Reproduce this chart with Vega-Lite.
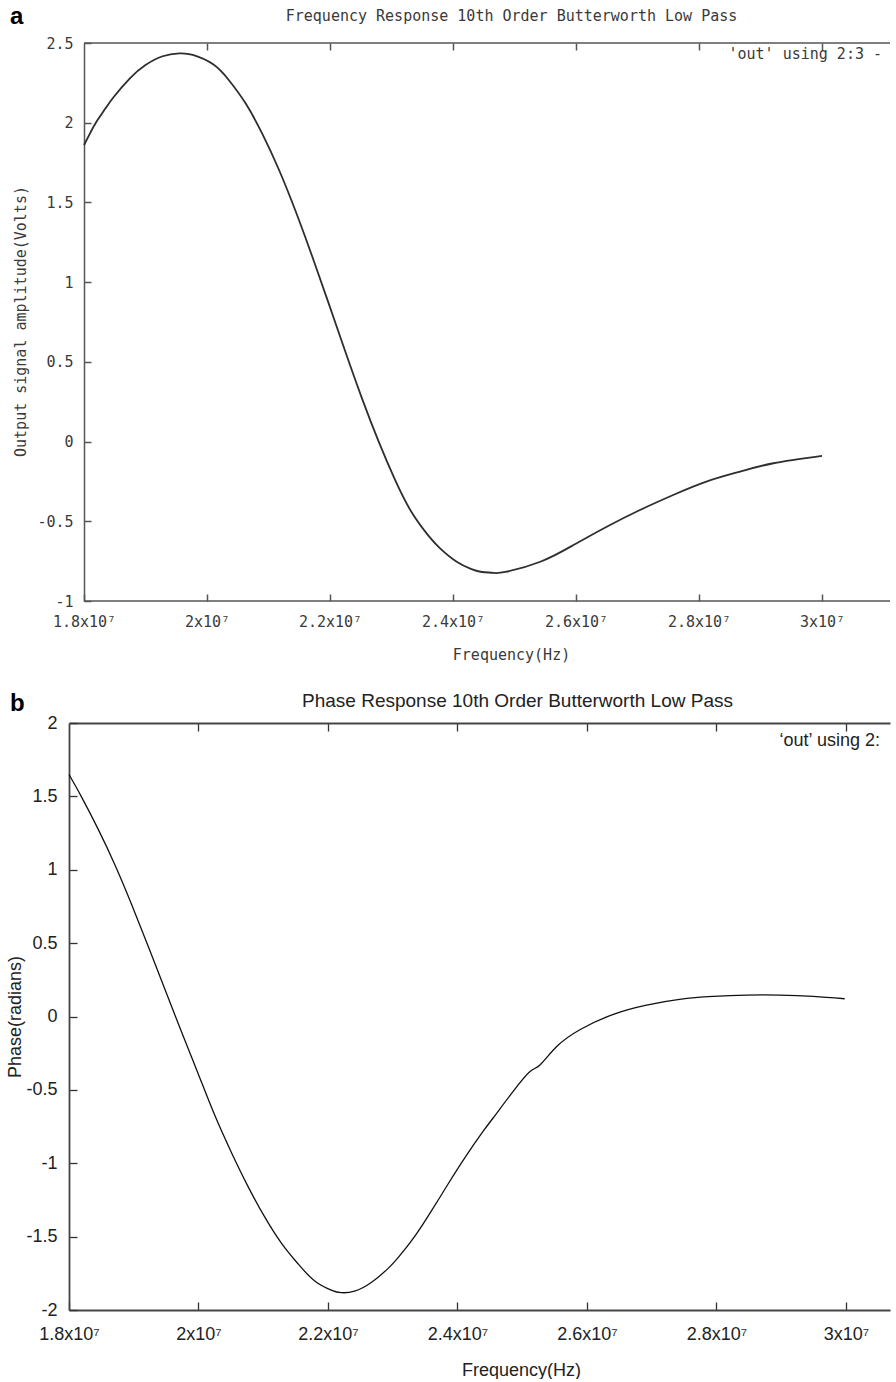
{
  "$schema": "https://vega.github.io/schema/vega-lite/v6.json",
  "background": "white",
  "padding": {"left": 6, "top": 4, "right": 0, "bottom": 0},
  "spacing": 29,
  "config": {"view": {"stroke": null}, "axis": {"grid": false}},
  "datasets": {
    "amp": [
      {"freq": 18000000, "volts": 1.86},
      {"freq": 18100000, "volts": 1.935},
      {"freq": 18200000, "volts": 2.005},
      {"freq": 18350000, "volts": 2.09},
      {"freq": 18480000, "volts": 2.16},
      {"freq": 18750000, "volts": 2.28},
      {"freq": 19000000, "volts": 2.362},
      {"freq": 19280000, "volts": 2.417},
      {"freq": 19550000, "volts": 2.435},
      {"freq": 19770000, "volts": 2.425},
      {"freq": 20100000, "volts": 2.366},
      {"freq": 20360000, "volts": 2.265},
      {"freq": 20630000, "volts": 2.12},
      {"freq": 20900000, "volts": 1.93},
      {"freq": 21170000, "volts": 1.705},
      {"freq": 21440000, "volts": 1.446},
      {"freq": 21710000, "volts": 1.162},
      {"freq": 21980000, "volts": 0.865},
      {"freq": 22250000, "volts": 0.563},
      {"freq": 22520000, "volts": 0.271},
      {"freq": 22790000, "volts": 0.001},
      {"freq": 23060000, "volts": -0.242},
      {"freq": 23330000, "volts": -0.445},
      {"freq": 23600000, "volts": -0.59},
      {"freq": 23790000, "volts": -0.67},
      {"freq": 24060000, "volts": -0.754},
      {"freq": 24300000, "volts": -0.8},
      {"freq": 24470000, "volts": -0.818},
      {"freq": 24650000, "volts": -0.823},
      {"freq": 24850000, "volts": -0.818},
      {"freq": 25420000, "volts": -0.754},
      {"freq": 25960000, "volts": -0.649},
      {"freq": 26500000, "volts": -0.534},
      {"freq": 27040000, "volts": -0.429},
      {"freq": 27580000, "volts": -0.335},
      {"freq": 28120000, "volts": -0.251},
      {"freq": 28670000, "volts": -0.188},
      {"freq": 29210000, "volts": -0.136},
      {"freq": 30000000, "volts": -0.09}
    ],
    "phase": [
      {"freq": 18000000, "rad": 1.649},
      {"freq": 18195000, "rad": 1.495},
      {"freq": 18450000, "rad": 1.277},
      {"freq": 18710000, "rad": 1.033},
      {"freq": 18967000, "rad": 0.764},
      {"freq": 19220000, "rad": 0.482},
      {"freq": 19480000, "rad": 0.187},
      {"freq": 19740000, "rad": -0.108},
      {"freq": 19995000, "rad": -0.39},
      {"freq": 20250000, "rad": -0.672},
      {"freq": 20510000, "rad": -0.928},
      {"freq": 20766000, "rad": -1.159},
      {"freq": 21020000, "rad": -1.364},
      {"freq": 21280000, "rad": -1.544},
      {"freq": 21537000, "rad": -1.685},
      {"freq": 21790000, "rad": -1.8},
      {"freq": 22050000, "rad": -1.864},
      {"freq": 22206000, "rad": -1.882},
      {"freq": 22410000, "rad": -1.872},
      {"freq": 22668000, "rad": -1.813},
      {"freq": 22925000, "rad": -1.718},
      {"freq": 23080000, "rad": -1.645},
      {"freq": 23337000, "rad": -1.5},
      {"freq": 23590000, "rad": -1.33},
      {"freq": 23850000, "rad": -1.145},
      {"freq": 24110000, "rad": -0.965},
      {"freq": 24400000, "rad": -0.78},
      {"freq": 24553000, "rad": -0.69},
      {"freq": 24860000, "rad": -0.51},
      {"freq": 25120000, "rad": -0.375},
      {"freq": 25274000, "rad": -0.33},
      {"freq": 25532000, "rad": -0.205},
      {"freq": 25890000, "rad": -0.09},
      {"freq": 26407000, "rad": 0.015},
      {"freq": 26920000, "rad": 0.078},
      {"freq": 27430000, "rad": 0.117},
      {"freq": 27950000, "rad": 0.137},
      {"freq": 28460000, "rad": 0.146},
      {"freq": 28980000, "rad": 0.146},
      {"freq": 29495000, "rad": 0.137},
      {"freq": 29980000, "rad": 0.121}
    ]
  },
  "vconcat": [
    {
      "width": 821,
      "height": 558,
      "data": {"name": "amp"},
      "resolve": {"axis": {"x": "independent"}},
      "layer": [
        {
          "mark": {"type": "line", "stroke": "#2e2e2e", "strokeWidth": 1.8, "interpolate": "natural"},
          "encoding": {
            "x": {
              "field": "freq", "type": "quantitative",
              "scale": {"domain": [17756100, 31105700], "nice": false, "zero": false},
              "axis": {
                "orient": "bottom",
                "domain": false,
                "values": [18000000, 20000000, 22000000, 24000000, 26000000, 28000000, 30000000],
                "labelExpr": "format(datum.value / 10000000, '~g') + 'x10⁷'",
                "labelFont": "DejaVu Sans Mono", "labelFontSize": 15, "labelColor": "#3a3a3a",
                "labelBaseline": "alphabetic", "labelPadding": 32, "labelFlush": false, "labelOverlap": false,
                "tickSize": -7, "tickColor": "#555555", "tickWidth": 1.5,
                "title": "Frequency(Hz)", "titleFont": "DejaVu Sans Mono", "titleFontSize": 15, "titleFontWeight": "normal", "titleColor": "#3a3a3a",
                "titleX": 442, "titleY": 58, "titleBaseline": "alphabetic", "titleAlign": "center"
              }
            },
            "y": {
              "field": "volts", "type": "quantitative",
              "scale": {"domain": [-1, 2.5], "nice": false, "zero": false},
              "axis": {
                "orient": "left",
                "offset": -15,
                "values": [-1, -0.5, 0, 0.5, 1, 1.5, 2, 2.5],
                "labelExpr": "'' + datum.value",
                "labelFont": "DejaVu Sans Mono", "labelFontSize": 15, "labelColor": "#3a3a3a",
                "labelBaseline": "middle", "labelPadding": 18, "labelFlush": false, "labelOverlap": false,
                "tickSize": -7, "tickColor": "#555555", "tickWidth": 1.5,
                "domainColor": "#555555", "domainWidth": 1.5,
                "title": "Output signal amplitude(Volts)", "titleFont": "DejaVu Sans Mono", "titleFontSize": 15, "titleFontWeight": "normal", "titleColor": "#3a3a3a",
                "titleX": -64, "titleY": 278, "titleBaseline": "middle", "titleAlign": "center", "titleAngle": -90
              }
            }
          }
        },
        {
          "data": {"values": [{}]},
          "mark": {"type": "rule", "color": "#555555", "strokeWidth": 1.5},
          "encoding": {
            "x": {"datum": 18000000, "type": "quantitative", "axis": null},
            "x2": {"datum": 31105700},
            "y": {"datum": -1, "type": "quantitative"}
          }
        },
        {
          "data": {"values": [{}]},
          "mark": {"type": "rule", "color": "#555555", "strokeWidth": 1.5},
          "encoding": {
            "x": {"datum": 18000000, "type": "quantitative", "axis": null},
            "x2": {"datum": 31105700},
            "y": {"datum": 2.5, "type": "quantitative"}
          }
        },
        {
          "data": {"values": [{}]},
          "mark": {"type": "text", "align": "right", "baseline": "alphabetic", "font": "DejaVu Sans Mono", "fontSize": 15, "color": "#3a3a3a"},
          "encoding": {
            "x": {
              "datum": 30976000, "type": "quantitative",
              "axis": {
                "orient": "top",
                "domain": false,
                "values": [20000000, 22000000, 24000000, 26000000, 28000000, 30000000],
                "labels": false,
                "tickSize": -7, "tickColor": "#555555", "tickWidth": 1.5,
                "title": "Frequency Response 10th Order Butterworth Low Pass", "titleFont": "DejaVu Sans Mono", "titleFontSize": 15, "titleFontWeight": "normal", "titleColor": "#3a3a3a",
                "titleX": 442, "titleY": -23, "titleBaseline": "alphabetic", "titleAlign": "center"
              }
            },
            "y": {"datum": 2.4, "type": "quantitative"},
            "text": {"value": "'out' using 2:3 -"}
          }
        },
        {
          "data": {"values": [{}]},
          "mark": {"type": "text", "align": "left", "baseline": "alphabetic", "font": "Liberation Sans", "fontSize": 24, "fontWeight": "bold", "color": "#000000"},
          "encoding": {
            "x": {"datum": 16796700, "type": "quantitative", "axis": null},
            "y": {"datum": 2.6193, "type": "quantitative"},
            "text": {"value": "a"}
          }
        }
      ]
    },
    {
      "width": 821,
      "height": 587,
      "data": {"name": "phase"},
      "resolve": {"axis": {"x": "independent"}},
      "layer": [
        {
          "mark": {"type": "line", "stroke": "#111111", "strokeWidth": 1.3, "interpolate": "natural"},
          "encoding": {
            "x": {
              "field": "freq", "type": "quantitative",
              "scale": {"domain": [18000000, 30680000], "nice": false, "zero": false},
              "axis": {
                "orient": "bottom",
                "values": [18000000, 20000000, 22000000, 24000000, 26000000, 28000000, 30000000],
                "labelExpr": "format(datum.value / 10000000, '~g') + 'x10⁷'",
                "labelFont": "Liberation Sans", "labelFontSize": 18, "labelColor": "#222222",
                "labelBaseline": "alphabetic", "labelPadding": 37, "labelFlush": false, "labelOverlap": false,
                "tickSize": -8, "tickColor": "#333333", "tickWidth": 1.3,
                "domainColor": "#444444", "domainWidth": 1.8,
                "title": "Frequency(Hz)", "titleFont": "Liberation Sans", "titleFontSize": 18, "titleFontWeight": "normal", "titleColor": "#222222",
                "titleX": 452, "titleY": 65, "titleBaseline": "alphabetic", "titleAlign": "center"
              }
            },
            "y": {
              "field": "rad", "type": "quantitative",
              "scale": {"domain": [-2, 2], "nice": false, "zero": false},
              "axis": {
                "orient": "left",
                "values": [-2, -1.5, -1, -0.5, 0, 0.5, 1, 1.5, 2],
                "labelExpr": "'' + datum.value",
                "labelFont": "Liberation Sans", "labelFontSize": 18, "labelColor": "#222222",
                "labelBaseline": "middle", "labelPadding": 20, "labelFlush": false, "labelOverlap": false,
                "tickSize": -8, "tickColor": "#333333", "tickWidth": 1.3,
                "domainColor": "#444444", "domainWidth": 1.8,
                "title": "Phase(radians)", "titleFont": "Liberation Sans", "titleFontSize": 18, "titleFontWeight": "normal", "titleColor": "#222222",
                "titleX": -54, "titleY": 293.5, "titleBaseline": "middle", "titleAlign": "center", "titleAngle": -90
              }
            }
          }
        },
        {
          "data": {"values": [{}]},
          "mark": {"type": "text", "align": "right", "baseline": "alphabetic", "font": "Liberation Sans", "fontSize": 18, "color": "#222222"},
          "encoding": {
            "x": {
              "datum": 30525000, "type": "quantitative",
              "axis": {
                "orient": "top",
                "values": [20000000, 22000000, 24000000, 26000000, 28000000, 30000000],
                "labels": false,
                "tickSize": -8, "tickColor": "#333333", "tickWidth": 1.3,
                "domainColor": "#444444", "domainWidth": 1.8,
                "title": "Phase Response 10th Order Butterworth Low Pass", "titleFont": "Liberation Sans", "titleFontSize": 19, "titleFontWeight": "normal", "titleColor": "#222222",
                "titleX": 448, "titleY": -17, "titleBaseline": "alphabetic", "titleAlign": "center"
              }
            },
            "y": {"datum": 1.843, "type": "quantitative"},
            "text": {"value": "‘out’ using 2:"}
          }
        },
        {
          "data": {"values": [{}]},
          "mark": {"type": "text", "align": "left", "baseline": "alphabetic", "font": "Liberation Sans", "fontSize": 24, "fontWeight": "bold", "color": "#000000"},
          "encoding": {
            "x": {"datum": 17088800, "type": "quantitative", "axis": null},
            "y": {"datum": 2.0818, "type": "quantitative"},
            "text": {"value": "b"}
          }
        }
      ]
    }
  ]
}
